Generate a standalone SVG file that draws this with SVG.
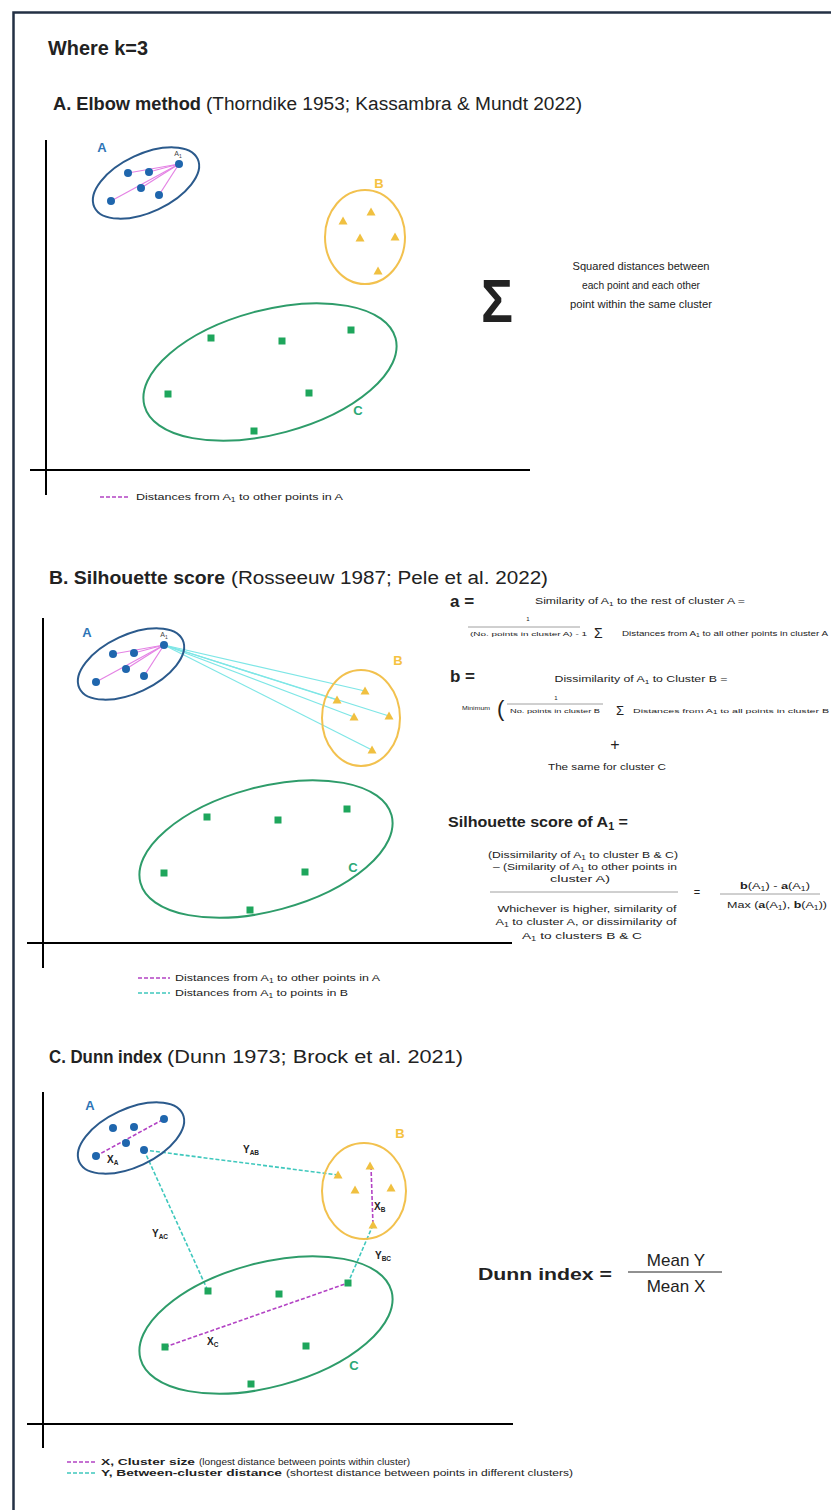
<svg xmlns="http://www.w3.org/2000/svg" width="831" height="1510" viewBox="0 0 831 1510">
<style>
text{font-family:"Liberation Sans",Arial,sans-serif;fill:#222}
.b{font-weight:bold}
.ax{stroke:#000;stroke-width:2}
.eA{fill:none;stroke:#2b5a8c;stroke-width:2}
.eB{fill:none;stroke:#f2c14e;stroke-width:2}
.eC{fill:none;stroke:#2e9c6a;stroke-width:2}
.pA{fill:#1f66ad}
.pB{fill:#f0c040}
.pC{fill:#1ea65c}
.lA{fill:#2e75b6;font-weight:bold;font-size:13px}
.lB{fill:#f5c242;font-weight:bold;font-size:13px}
.lC{fill:#2aa876;font-weight:bold;font-size:13px}
.pk{stroke:#e483e4;stroke-width:1.2;fill:none}
.cy{stroke:#7ee6e6;stroke-width:1.2;fill:none}
.dpk{stroke:#b343c4;stroke-width:1.6;stroke-dasharray:4 2;fill:none}
.dcy{stroke:#3fc8bd;stroke-width:1.6;stroke-dasharray:4 2;fill:none}
.fl{stroke:#888;stroke-width:0.8}
.gr{fill:#444}
</style>
<defs>
<path id="tri" d="M0,-4.5 L4.5,3.5 L-4.5,3.5Z"/>
<rect id="sq" x="-3.5" y="-3.5" width="7" height="7"/>
</defs>
<rect x="0" y="0" width="831" height="1510" fill="#fff"/>
<rect x="13.5" y="12.5" width="840" height="1520" fill="none" stroke="#233044" stroke-width="2.5"/>

<text class="b" x="48" y="55" font-size="21" textLength="100" lengthAdjust="spacingAndGlyphs">Where k=3</text>

<!-- ================= PANEL A ================= -->
<text class="b" x="53" y="110" font-size="18" textLength="148" lengthAdjust="spacingAndGlyphs">A. Elbow method</text>
<text x="206" y="110" font-size="18" textLength="376" lengthAdjust="spacingAndGlyphs">(Thorndike 1953; Kassambra &amp; Mundt 2022)</text>
<g id="axesA"><line class="ax" x1="46" y1="140" x2="46" y2="495"/><line class="ax" x1="30" y1="470" x2="530" y2="470"/></g>
<g id="connectorsA">
<line class="pk" x1="179" y1="164" x2="128" y2="173"/><line class="pk" x1="179" y1="164" x2="149" y2="172"/><line class="pk" x1="179" y1="164" x2="141" y2="188"/><line class="pk" x1="179" y1="164" x2="159" y2="195"/><line class="pk" x1="179" y1="164" x2="111" y2="201"/>
</g>
<g id="A-clusterA">
<ellipse class="eA" cx="146" cy="183" rx="57" ry="29" transform="rotate(-25 146 183)"/>
<circle class="pA" cx="128" cy="173" r="4"/><circle class="pA" cx="149" cy="172" r="4"/><circle class="pA" cx="141" cy="188" r="4"/><circle class="pA" cx="159" cy="195" r="4"/><circle class="pA" cx="111" cy="201" r="4"/><circle class="pA" cx="179" cy="164" r="4"/>
<text class="lA" x="102" y="152" text-anchor="middle">A</text>
<text class="gr" x="178" y="156" font-size="7" text-anchor="middle">A<tspan font-size="5" dy="1.5">1</tspan></text>
</g>
<g id="A-clusterB">
<ellipse class="eB" cx="365" cy="237" rx="40" ry="47"/>
<use href="#tri" class="pB" x="343" y="221"/><use href="#tri" class="pB" x="371" y="212"/><use href="#tri" class="pB" x="360" y="238"/><use href="#tri" class="pB" x="395" y="237"/><use href="#tri" class="pB" x="378" y="271"/>
<text class="lB" x="379" y="188" text-anchor="middle">B</text>
</g>
<g id="A-clusterC">
<ellipse class="eC" cx="270" cy="372" rx="130" ry="62" transform="rotate(-15 270 372)"/>
<use href="#sq" class="pC" x="211" y="338"/><use href="#sq" class="pC" x="282" y="341"/><use href="#sq" class="pC" x="351" y="330"/><use href="#sq" class="pC" x="168" y="394"/><use href="#sq" class="pC" x="309" y="393"/><use href="#sq" class="pC" x="254" y="431"/>
<text class="lC" x="358" y="415" text-anchor="middle">C</text>
</g>
<g id="A-sum">
<text class="b" x="481" y="322" font-size="62" textLength="32" lengthAdjust="spacingAndGlyphs" fill="#000">Σ</text>
<text x="641" y="270" font-size="11" text-anchor="middle" textLength="137" lengthAdjust="spacingAndGlyphs">Squared distances between</text>
<text x="641" y="289" font-size="11" text-anchor="middle" textLength="118" lengthAdjust="spacingAndGlyphs">each point and each other</text>
<text x="641" y="308" font-size="11" text-anchor="middle" textLength="142" lengthAdjust="spacingAndGlyphs">point within the same cluster</text>
</g>
<g id="A-legend">
<line class="dpk" x1="100" y1="497" x2="130" y2="497" stroke-width="1.2"/>
<text x="136" y="500" font-size="9.5" textLength="207" lengthAdjust="spacingAndGlyphs">Distances from A<tspan font-size="6.5" dy="2">1</tspan><tspan dy="-2"> to other points in A</tspan></text>
</g>

<!-- ================= PANEL B ================= -->
<text class="b" x="49" y="584" font-size="18" textLength="176" lengthAdjust="spacingAndGlyphs">B. Silhouette score</text>
<text x="231" y="584" font-size="18" textLength="317" lengthAdjust="spacingAndGlyphs">(Rosseeuw 1987; Pele et al. 2022)</text>
<g id="axesB"><line class="ax" x1="43" y1="618" x2="43" y2="968"/><line class="ax" x1="27" y1="943" x2="512" y2="943"/></g>
<g id="connectorsB">
<line class="pk" x1="164" y1="645" x2="113" y2="654"/><line class="pk" x1="164" y1="645" x2="134" y2="653"/><line class="pk" x1="164" y1="645" x2="126" y2="669"/><line class="pk" x1="164" y1="645" x2="144" y2="676"/><line class="pk" x1="164" y1="645" x2="96" y2="682"/>
<line class="cy" x1="164" y1="645" x2="337" y2="700"/><line class="cy" x1="164" y1="645" x2="365" y2="691"/><line class="cy" x1="164" y1="645" x2="354" y2="717"/><line class="cy" x1="164" y1="645" x2="389" y2="716"/><line class="cy" x1="164" y1="645" x2="372" y2="750"/>
</g>
<g id="B-clusterA">
<ellipse class="eA" cx="131" cy="664" rx="57" ry="29" transform="rotate(-25 131 664)"/>
<circle class="pA" cx="113" cy="654" r="4"/><circle class="pA" cx="134" cy="653" r="4"/><circle class="pA" cx="126" cy="669" r="4"/><circle class="pA" cx="144" cy="676" r="4"/><circle class="pA" cx="96" cy="682" r="4"/><circle class="pA" cx="164" cy="645" r="4"/>
<text class="lA" x="87" y="637" text-anchor="middle">A</text>
<text class="gr" x="164" y="637" font-size="7" text-anchor="middle">A<tspan font-size="5" dy="1.5">1</tspan></text>
</g>
<g id="B-clusterB">
<ellipse class="eB" cx="361" cy="718" rx="39" ry="48"/>
<use href="#tri" class="pB" x="337" y="700"/><use href="#tri" class="pB" x="365" y="691"/><use href="#tri" class="pB" x="354" y="717"/><use href="#tri" class="pB" x="389" y="716"/><use href="#tri" class="pB" x="372" y="750"/>
<text class="lB" x="398" y="665" text-anchor="middle">B</text>
</g>
<g id="B-clusterC">
<ellipse class="eC" cx="266" cy="849" rx="130" ry="62" transform="rotate(-15 266 849)"/>
<use href="#sq" class="pC" x="207" y="817"/><use href="#sq" class="pC" x="278" y="820"/><use href="#sq" class="pC" x="347" y="809"/><use href="#sq" class="pC" x="164" y="873"/><use href="#sq" class="pC" x="305" y="872"/><use href="#sq" class="pC" x="250" y="910"/>
<text class="lC" x="353" y="872" text-anchor="middle">C</text>
</g>
<g id="B-formula-a">
<text class="b" x="450" y="607" font-size="17">a =</text>
<text x="640" y="604" font-size="9" text-anchor="middle" textLength="210" lengthAdjust="spacingAndGlyphs">Similarity of A<tspan font-size="6" dy="1.5">1</tspan><tspan dy="-1.5"> to the rest of cluster A =</tspan></text>
<text x="528" y="621" font-size="6" text-anchor="middle">1</text>
<line class="fl" x1="468" y1="627" x2="580" y2="627"/>
<text x="470" y="636" font-size="6" textLength="117" lengthAdjust="spacingAndGlyphs">(No. points in cluster A) - 1</text>
<text x="594" y="638" font-size="14">Σ</text>
<text x="622" y="636" font-size="6.5" textLength="206" lengthAdjust="spacingAndGlyphs">Distances from A<tspan font-size="4.5" dy="1">1</tspan><tspan dy="-1"> to all other points in cluster A</tspan></text>
</g>
<g id="B-formula-b">
<text class="b" x="450" y="682" font-size="17">b =</text>
<text x="641" y="682" font-size="9" text-anchor="middle" textLength="173" lengthAdjust="spacingAndGlyphs">Dissimilarity of A<tspan font-size="6" dy="1.5">1</tspan><tspan dy="-1.5"> to Cluster B =</tspan></text>
<text x="462" y="710" font-size="5.5" textLength="28" lengthAdjust="spacingAndGlyphs">Minimum</text>
<text x="497" y="716" font-size="22">(</text>
<text x="556" y="700" font-size="6" text-anchor="middle">1</text>
<line class="fl" x1="507" y1="704" x2="603" y2="704"/>
<text x="510" y="713" font-size="5.5" textLength="90" lengthAdjust="spacingAndGlyphs">No. points in cluster B</text>
<text x="616" y="715" font-size="13">Σ</text>
<text x="633" y="713" font-size="6" textLength="196" lengthAdjust="spacingAndGlyphs">Distances from A<tspan font-size="4.5" dy="1">1</tspan><tspan dy="-1"> to all points in cluster B</tspan></text>
<text x="615" y="750" font-size="16" text-anchor="middle">+</text>
<text x="607" y="770" font-size="9" text-anchor="middle" textLength="118" lengthAdjust="spacingAndGlyphs">The same for cluster C</text>
</g>
<g id="B-silhouette">
<text class="b" x="448" y="827" font-size="15" textLength="180" lengthAdjust="spacingAndGlyphs">Silhouette score of A<tspan font-size="10" dy="3">1</tspan><tspan dy="-3"> =</tspan></text>
<text x="583" y="858" font-size="9.5" text-anchor="middle" textLength="190" lengthAdjust="spacingAndGlyphs">(Dissimilarity of A<tspan font-size="6.5" dy="1.5">1</tspan><tspan dy="-1.5"> to cluster B &amp; C)</tspan></text>
<text x="585" y="870" font-size="9.5" text-anchor="middle" textLength="184" lengthAdjust="spacingAndGlyphs">– (Similarity of A<tspan font-size="6.5" dy="1.5">1</tspan><tspan dy="-1.5"> to other points in</tspan></text>
<text x="580" y="882" font-size="9.5" text-anchor="middle" textLength="60" lengthAdjust="spacingAndGlyphs">cluster A)</text>
<line class="fl" x1="490" y1="892" x2="678" y2="892"/>
<text x="587" y="912" font-size="9.5" text-anchor="middle" textLength="179" lengthAdjust="spacingAndGlyphs">Whichever is higher, similarity of</text>
<text x="586" y="925" font-size="9.5" text-anchor="middle" textLength="181" lengthAdjust="spacingAndGlyphs">A<tspan font-size="6.5" dy="1.5">1</tspan><tspan dy="-1.5"> to cluster A, or dissimilarity of</tspan></text>
<text x="582" y="939" font-size="9.5" text-anchor="middle" textLength="120" lengthAdjust="spacingAndGlyphs">A<tspan font-size="6.5" dy="1.5">1</tspan><tspan dy="-1.5"> to clusters B &amp; C</tspan></text>
<text x="697" y="896" font-size="11" text-anchor="middle">=</text>
<text x="775" y="889" font-size="9.5" text-anchor="middle" textLength="70" lengthAdjust="spacingAndGlyphs"><tspan class="b">b</tspan>(A<tspan font-size="6.5" dy="1.5">1</tspan><tspan dy="-1.5">) - </tspan><tspan class="b">a</tspan>(A<tspan font-size="6.5" dy="1.5">1</tspan><tspan dy="-1.5">)</tspan></text>
<line class="fl" x1="720" y1="894" x2="820" y2="894"/>
<text x="777" y="908" font-size="9.5" text-anchor="middle" textLength="100" lengthAdjust="spacingAndGlyphs">Max (<tspan class="b">a</tspan>(A<tspan font-size="6.5" dy="1.5">1</tspan><tspan dy="-1.5">), </tspan><tspan class="b">b</tspan>(A<tspan font-size="6.5" dy="1.5">1</tspan><tspan dy="-1.5">))</tspan></text>
</g>
<g id="B-legend">
<line class="dpk" x1="138" y1="978" x2="170" y2="978" stroke-width="1.2"/>
<text x="175" y="981" font-size="9.5" textLength="205" lengthAdjust="spacingAndGlyphs">Distances from A<tspan font-size="6.5" dy="2">1</tspan><tspan dy="-2"> to other points in A</tspan></text>
<line class="dcy" x1="138" y1="993" x2="170" y2="993" stroke-width="1.2"/>
<text x="175" y="996" font-size="9.5" textLength="173" lengthAdjust="spacingAndGlyphs">Distances from A<tspan font-size="6.5" dy="2">1</tspan><tspan dy="-2"> to points in B</tspan></text>
</g>

<!-- ================= PANEL C ================= -->
<text class="b" x="49" y="1063" font-size="18" textLength="113" lengthAdjust="spacingAndGlyphs">C. Dunn index</text>
<text x="167" y="1063" font-size="18" textLength="296" lengthAdjust="spacingAndGlyphs">(Dunn 1973; Brock et al. 2021)</text>
<g id="axesC"><line class="ax" x1="43" y1="1092" x2="43" y2="1448"/><line class="ax" x1="27" y1="1424" x2="513" y2="1424"/></g>
<g id="connectorsC">
<line class="dcy" x1="144" y1="1150" x2="338" y2="1175"/>
<line class="dcy" x1="144" y1="1150" x2="208" y2="1291"/>
<line class="dcy" x1="373" y1="1225" x2="348" y2="1283"/>
<line class="dpk" x1="96" y1="1156" x2="164" y2="1119"/>
<line class="dpk" x1="371" y1="1166" x2="373" y2="1225"/>
<line class="dpk" x1="165" y1="1347" x2="348" y2="1283"/>
</g>
<g id="C-clusterA">
<ellipse class="eA" cx="131" cy="1138" rx="57" ry="29" transform="rotate(-25 131 1138)"/>
<circle class="pA" cx="113" cy="1128" r="4"/><circle class="pA" cx="134" cy="1127" r="4"/><circle class="pA" cx="126" cy="1143" r="4"/><circle class="pA" cx="144" cy="1150" r="4"/><circle class="pA" cx="96" cy="1156" r="4"/><circle class="pA" cx="164" cy="1119" r="4"/>
<text class="lA" x="90" y="1110" text-anchor="middle">A</text>
</g>
<g id="C-clusterB">
<ellipse class="eB" cx="364" cy="1191" rx="42" ry="48"/>
<use href="#tri" class="pB" x="338" y="1175"/><use href="#tri" class="pB" x="370" y="1166"/><use href="#tri" class="pB" x="355" y="1190"/><use href="#tri" class="pB" x="391" y="1188"/><use href="#tri" class="pB" x="373" y="1225"/>
<text class="lB" x="400" y="1138" text-anchor="middle">B</text>
</g>
<g id="C-clusterC">
<ellipse class="eC" cx="266" cy="1325" rx="130" ry="62" transform="rotate(-15 266 1325)"/>
<use href="#sq" class="pC" x="208" y="1291"/><use href="#sq" class="pC" x="279" y="1294"/><use href="#sq" class="pC" x="348" y="1283"/><use href="#sq" class="pC" x="165" y="1347"/><use href="#sq" class="pC" x="306" y="1346"/><use href="#sq" class="pC" x="251" y="1384"/>
<text class="lC" x="354" y="1370" text-anchor="middle">C</text>
</g>
<g id="C-labels" font-size="10">
<text class="b" x="107" y="1163">X<tspan font-size="6.5" dy="2">A</tspan></text>
<text class="b" x="374" y="1210">X<tspan font-size="6.5" dy="2">B</tspan></text>
<text class="b" x="207" y="1345">X<tspan font-size="6.5" dy="2">C</tspan></text>
<text class="b" x="243" y="1153">Y<tspan font-size="6.5" dy="2">AB</tspan></text>
<text class="b" x="152" y="1237">Y<tspan font-size="6.5" dy="2">AC</tspan></text>
<text class="b" x="375" y="1259">Y<tspan font-size="6.5" dy="2">BC</tspan></text>
</g>
<g id="C-dunn">
<text class="b" x="478" y="1280" font-size="17" textLength="134" lengthAdjust="spacingAndGlyphs">Dunn index =</text>
<text x="676" y="1266" font-size="17" text-anchor="middle">Mean Y</text>
<line x1="628" y1="1272" x2="722" y2="1272" stroke="#222" stroke-width="1"/>
<text x="676" y="1292" font-size="17" text-anchor="middle">Mean X</text>
</g>
<g id="C-legend">
<line class="dpk" x1="67" y1="1462" x2="97" y2="1462" stroke-width="1.2"/>
<text class="b" x="101" y="1465" font-size="9" textLength="94" lengthAdjust="spacingAndGlyphs">X, Cluster size</text>
<text x="199" y="1465" font-size="9" textLength="211" lengthAdjust="spacingAndGlyphs">(longest distance between points within cluster)</text>
<line class="dcy" x1="67" y1="1473" x2="97" y2="1473" stroke-width="1.2"/>
<text class="b" x="101" y="1476" font-size="9" textLength="181" lengthAdjust="spacingAndGlyphs">Y, Between-cluster distance</text>
<text x="286" y="1476" font-size="9" textLength="287" lengthAdjust="spacingAndGlyphs">(shortest distance between points in different clusters)</text>
</g>
</svg>
